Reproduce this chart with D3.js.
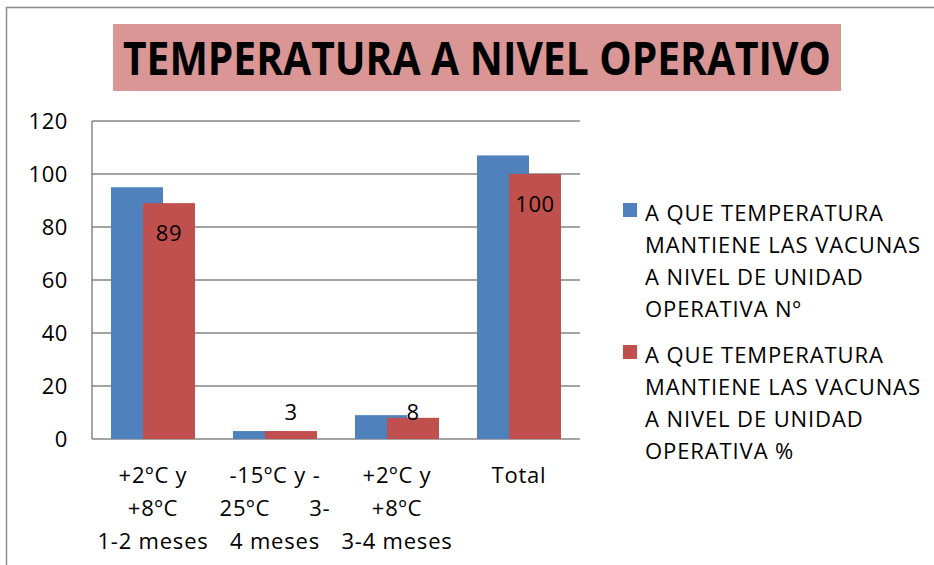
<!DOCTYPE html>
<html>
<head>
<meta charset="utf-8">
<script src="https://cdn.jsdelivr.net/npm/d3@7"></script>
<style>
  body { margin: 0; background: #fff; }
  text { font-family: "Open Sans", "Noto Sans", sans-serif; fill: #000; }
</style>
</head>
<body>
<svg id="chart" width="934" height="565"></svg>
<script>
// datos
var categorias = ["+2ºC y|+8ºC|1-2 meses", "-15ºC y -|25ºC      3-|4 meses", "+2ºC y|+8ºC|3-4 meses", "Total"];
var valoresNum = [95, 3, 9, 107];
var valoresPct = [89, 3, 8, 100];
var ticksY = [0, 20, 40, 60, 80, 100, 120];
var leyenda = [
    ["A QUE TEMPERATURA", "MANTIENE LAS VACUNAS", "A NIVEL DE UNIDAD", "OPERATIVA Nº"],
    ["A QUE TEMPERATURA", "MANTIENE LAS VACUNAS", "A NIVEL DE UNIDAD", "OPERATIVA %"]
];
var colores = ["#4F81BD", "#C0504D"];

var svg = d3.select("#chart");

// marco exterior
svg.append("path")
    .attr("d", "M6.5,565 V7.5 H934")
    .attr("fill", "none")
    .attr("stroke", "#8c8c8c")
    .attr("stroke-width", 1.5);

// titulo
svg.append("rect")
    .attr("x", 113).attr("y", 24)
    .attr("width", 728).attr("height", 67)
    .attr("fill", "#D99694");
svg.append("text")
    .attr("x", 477).attr("y", 75)
    .attr("text-anchor", "middle")
    .attr("font-size", 46)
    .attr("font-weight", "bold")
    .attr("textLength", 708)
    .attr("lengthAdjust", "spacingAndGlyphs")
    .text("TEMPERATURA A NIVEL OPERATIVO");

var x0 = 92, x1 = 580, yTop = 121, yBot = 439;

var x = d3.scaleBand().domain(d3.range(categorias.length)).range([x0, x1]);
var y = d3.scaleLinear().domain([0, 120]).range([yBot, yTop]);

// lineas de division
svg.append("g")
    .selectAll("line")
    .data(ticksY)
    .enter().append("line")
    .attr("x1", x0).attr("x2", x1)
    .attr("y1", function (d) { return y(d); })
    .attr("y2", function (d) { return y(d); })
    .attr("stroke", "#868686")
    .attr("stroke-width", 1.5);

svg.append("line")
    .attr("x1", x0).attr("x2", x0)
    .attr("y1", yTop).attr("y2", yBot)
    .attr("stroke", "#868686")
    .attr("stroke-width", 1.5);

// etiquetas eje y
svg.append("g")
    .selectAll("text")
    .data(ticksY)
    .enter().append("text")
    .attr("x", 68)
    .attr("y", function (d) { return y(d) + 8; })
    .attr("text-anchor", "end")
    .attr("font-size", 22)
    .attr("letter-spacing", 0.6)
    .text(function (d) { return d; });

var barW = 52, desp = 32;

// barras (azul primero, roja encima)
[valoresNum, valoresPct].forEach(function (serie, s) {
    svg.append("g")
        .selectAll("rect")
        .data(serie)
        .enter().append("rect")
        .attr("x", function (d, i) {
            var c = x(i) + x.bandwidth() / 2;
            return c - 42 + s * desp;
        })
        .attr("y", function (d) { return y(d); })
        .attr("width", barW)
        .attr("height", function (d) { return yBot - y(d); })
        .attr("fill", colores[s]);
});

// etiquetas de datos en serie %
svg.append("g")
    .selectAll("text")
    .data(valoresPct)
    .enter().append("text")
    .attr("x", function (d, i) { return x(i) + x.bandwidth() / 2 - 42 + desp + barW / 2; })
    .attr("y", function (d) {
        return (yBot - y(d) > 40) ? y(d) + 38 : yBot - 19;
    })
    .attr("text-anchor", "middle")
    .attr("font-size", 22)
    .attr("letter-spacing", 0.6)
    .text(function (d) { return d; });

// etiquetas categorias
categorias.forEach(function (c, i) {
    var t = svg.append("text")
        .attr("text-anchor", "middle")
        .attr("font-size", 22)
        .attr("letter-spacing", 0.8)
        .attr("xml:space", "preserve")
        .style("white-space", "pre");
    c.split("|").forEach(function (linea, j) {
        t.append("tspan")
            .attr("x", x(i) + x.bandwidth() / 2)
            .attr("y", 483 + j * 33)
            .text(linea);
    });
});

// leyenda
leyenda.forEach(function (lineas, s) {
    var top = 213 + s * 142;
    svg.append("rect")
        .attr("x", 623).attr("y", top - 10)
        .attr("width", 14).attr("height", 14)
        .attr("fill", colores[s]);
    lineas.forEach(function (l, j) {
        svg.append("text")
            .attr("x", 645)
            .attr("y", top + 8 + j * 32)
            .attr("font-size", 22)
            .attr("letter-spacing", 0.9)
            .text(l);
    });
});
</script>
</body>
</html>
